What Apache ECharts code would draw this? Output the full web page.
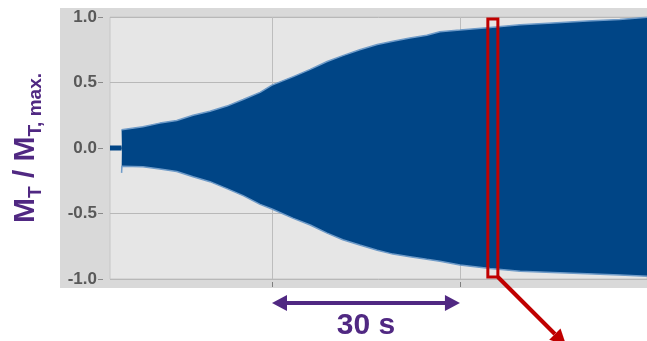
<!DOCTYPE html>
<html><head><meta charset="utf-8">
<script src="https://cdn.jsdelivr.net/npm/echarts@6/dist/echarts.min.js"></script>
<style>html,body{margin:0;padding:0;background:#fff}#c{width:647px;height:341px}</style>
</head><body><div id="c"></div>
<script>
// ---- data (time in s, amplitude M_T / M_T,max) ----
const timeS = [6.0, 6.05, 6.2, 9.4, 12.1, 14.8, 17.4, 20.1, 22.8, 25.4, 28.1, 30.0, 33.4, 36.1, 38.8, 41.3, 44.0, 46.8, 49.3, 52.0, 54.7, 56.8, 60.0, 64.8, 69.6, 74.8, 80.3, 85.5, 89.9];
const upperEnv = [0.14, 0.135, 0.137, 0.163, 0.19, 0.21, 0.25, 0.28, 0.32, 0.37, 0.425, 0.48, 0.545, 0.60, 0.66, 0.705, 0.75, 0.79, 0.815, 0.84, 0.86, 0.888, 0.90, 0.92, 0.94, 0.955, 0.97, 0.98, 0.998];
const lowerEnv = [-0.19, -0.14, -0.13, -0.143, -0.16, -0.18, -0.22, -0.257, -0.31, -0.364, -0.43, -0.466, -0.537, -0.588, -0.65, -0.70, -0.74, -0.78, -0.81, -0.83, -0.85, -0.865, -0.893, -0.92, -0.94, -0.95, -0.96, -0.97, -0.98];
const leadTime = [4.15, 6.0];
const leadValue = [0, 0];
const timeRange = [4.15, 89.85];
const yRange = [-1, 1];
const yInterval = 0.5;
const gridTimes = [30, 60];
const windowTimes = [64.45, 66.05];
const windowAmp = [-0.985, 0.985];
const scaleBarTimes = [30, 60];
const scaleBarLabel = '30 s';

const BLUE = '#004586', FRINGE = '#6f9bc8', PURPLE = '#502882', RED = '#c00000';
const FONT = '"Liberation Sans", Arial, sans-serif';

const upperPts = timeS.map((t, i) => [t, upperEnv[i]]);
const lowerPts = timeS.map((t, i) => [t, lowerEnv[i]]);
const lead = leadTime.map((t, i) => [t, leadValue[i]]);
const zeroPts = [[timeS[0], 0], [timeS[timeS.length - 1], 0]];

const chart = echarts.init(document.getElementById('c'));
chart.setOption({
  animation: false,
  backgroundColor: '#ffffff',
  grid: { left: 110, top: 17, right: 0, bottom: 62, show: true, backgroundColor: '#e6e6e6', borderColor: '#c6c6c6', borderWidth: 1 },
  xAxis: {
    type: 'value', min: timeRange[0], max: timeRange[1], offset: 3,
    axisLine: { show: false, onZero: false },
    axisTick: { show: true, customValues: gridTimes, length: 5, lineStyle: { color: '#7f7f7f' } },
    axisLabel: { show: false },
    splitLine: { show: true, lineStyle: { color: '#bdbdbd', width: 1 } }
  },
  yAxis: {
    type: 'value', min: yRange[0], max: yRange[1], interval: yInterval, offset: 7,
    axisLine: { show: false },
    axisTick: { show: true, length: 5, lineStyle: { color: '#8a8a8a' } },
    axisLabel: { margin: 6, fontFamily: FONT, fontSize: 17, fontWeight: 'bold', color: '#595959', formatter: v => v.toFixed(1) },
    splitLine: { show: true, lineStyle: { color: '#b8b8b8' } },
    name: '{m|M}{s|T}{m| / M}{s|T, max.}',
    nameLocation: 'middle', nameRotate: 90, nameGap: 58,
    nameTextStyle: {
      rich: {
        m: { fontFamily: FONT, fontSize: 30, fontWeight: 'bold', color: PURPLE, lineHeight: 34, verticalAlign: 'top' },
        s: { fontFamily: FONT, fontSize: 19, fontWeight: 'bold', color: PURPLE, lineHeight: 20, verticalAlign: 'bottom' }
      }
    }
  },
  series: [
    { type: 'line', data: upperPts, symbol: 'none', z: 3,
      lineStyle: { color: FRINGE, width: 1.5 }, areaStyle: { color: BLUE, opacity: 1, origin: 'auto' } },
    { type: 'line', data: lowerPts, symbol: 'none', z: 3,
      lineStyle: { color: FRINGE, width: 1.5 }, areaStyle: { color: BLUE, opacity: 1, origin: 'auto' } },
    { type: 'line', data: zeroPts, symbol: 'none', z: 4, lineStyle: { color: BLUE, width: 2 } },
    { type: 'line', data: lead, symbol: 'none', z: 5, lineStyle: { color: BLUE, width: 5, cap: 'butt' },
      markArea: { silent: true, z: 10,
        itemStyle: { color: 'rgba(0,0,0,0)', borderColor: RED, borderWidth: 3 },
        data: [[{ xAxis: windowTimes[0], yAxis: windowAmp[1] }, { xAxis: windowTimes[1], yAxis: windowAmp[0] }]] } }
  ]
});

// annotations positioned through the chart's own scales
const pA = chart.convertToPixel({ gridIndex: 0 }, [scaleBarTimes[0], yRange[0]]);
const pB = chart.convertToPixel({ gridIndex: 0 }, [scaleBarTimes[1], yRange[0]]);
const corner = chart.convertToPixel({ gridIndex: 0 }, [windowTimes[1], windowAmp[0]]);
const barY = pA[1] + 24;
const ah = 15, aw = 8;
const d = 57, hw = 8, hl = 16;
const bc = [corner[0] + d, corner[1] + d];
const s2 = Math.SQRT1_2;
chart.setOption({
  graphic: [
    { type: 'rect', z: -10, silent: true, shape: { x: 60, y: 8, width: 600, height: 280 }, style: { fill: '#d9d9d9' } },
    { type: 'line', z: 20, shape: { x1: pA[0] + ah - 2, y1: barY, x2: pB[0] - ah + 2, y2: barY }, style: { stroke: PURPLE, lineWidth: 4 } },
    { type: 'polygon', z: 20, shape: { points: [[pA[0], barY], [pA[0] + ah, barY - aw], [pA[0] + ah, barY + aw]] }, style: { fill: PURPLE } },
    { type: 'polygon', z: 20, shape: { points: [[pB[0], barY], [pB[0] - ah, barY - aw], [pB[0] - ah, barY + aw]] }, style: { fill: PURPLE } },
    { type: 'text', z: 20, x: (pA[0] + pB[0]) / 2, y: barY + 23, style: { text: scaleBarLabel, fontFamily: FONT, fontSize: 30, fontWeight: 'bold', fill: PURPLE, align: 'center', verticalAlign: 'middle' } },
    { type: 'line', z: 20, shape: { x1: corner[0], y1: corner[1], x2: bc[0], y2: bc[1] }, style: { stroke: RED, lineWidth: 4 } },
    { type: 'polygon', z: 20, shape: { points: [[bc[0] + hw * s2, bc[1] - hw * s2], [bc[0] - hw * s2, bc[1] + hw * s2], [bc[0] + hl * s2, bc[1] + hl * s2]] }, style: { fill: RED } }
  ]
});
</script></body></html>
